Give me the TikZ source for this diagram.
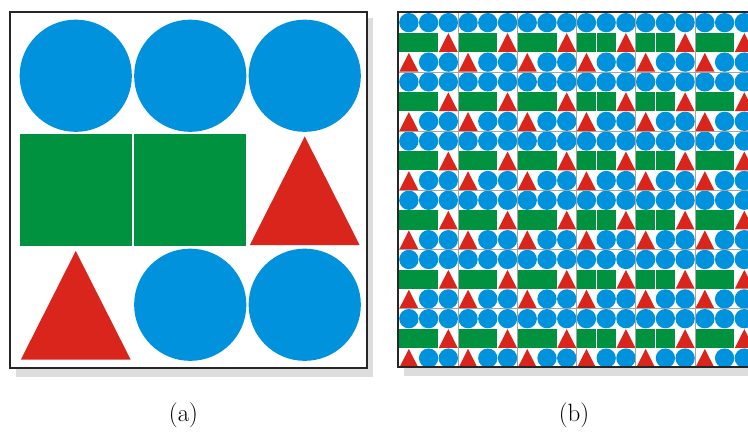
\documentclass[tikz,border=0pt]{standalone}
\usepackage{fontspec}
\definecolor{motifblue}{RGB}{0,146,221}
\definecolor{motifgreen}{RGB}{0,146,63}
\definecolor{motifred}{RGB}{218,37,29}
\definecolor{shadowgray}{RGB}{221,221,221}
\definecolor{tilegray}{RGB}{165,165,165}
\tikzset{
  frame/.style={draw=black!85,line width=2pt,fill=white},
  tileline/.style={draw=tilegray,line width=0.9pt},
  caption/.style={font=\fontsize{25}{29}\selectfont},
  motif/.pic={
    \foreach \cx/\cy in {0.5/0.5,1.5/0.5,2.5/0.5,1.5/2.5,2.5/2.5}
      \fill[motifblue] (\cx,\cy) circle (0.49);
    \fill[motifgreen] (0.01,1.01) rectangle (0.99,1.99);
    \fill[motifgreen] (1.01,1.01) rectangle (1.99,1.99);
    \fill[motifred] (2.02,1.98) -- (2.98,1.98) -- (2.5,1.03) -- cycle;
    \fill[motifred] (0.02,2.98) -- (0.98,2.98) -- (0.5,2.03) -- cycle;
  }
}
\begin{document}
\begin{tikzpicture}[x=1pt,y=-1pt]
  \useasboundingbox (0,0) rectangle (748,439);
  \fill[shadowgray] (16,18) rectangle (373,377);
  \draw[frame] (10,12) rectangle (367,368);
  \pic[scale=114.5] at (18.5,18.5) {motif};
  \begin{scope}
    \clip (0,0) rectangle (748,439);
    \fill[shadowgray] (404,18) rectangle (760,376);
    \draw[frame] (398,12) rectangle (770,367);
    \foreach \i in {0,...,5}
      \foreach \j in {0,...,5}
        \pic[scale=19.73] at ({399+59.2*\i},{12.8+59.2*\j}) {motif};
    \foreach \i in {1,...,5}
      \draw[tileline] ({399+59.2*\i},13) -- ({399+59.2*\i},366);
    \foreach \j in {1,...,5}
      \draw[tileline] (399,{12.8+59.2*\j}) -- (748,{12.8+59.2*\j});
    \draw[black!85,line width=2pt] (398,12) -- (770,12);
    \draw[black!85,line width=2pt] (398,12) -- (398,367) -- (770,367);
  \end{scope}
  \node[caption] (labela) at (183.5,415) {(a)};
  \node[caption] (labelb) at (574,415) {(b)};
\end{tikzpicture}
\end{document}
